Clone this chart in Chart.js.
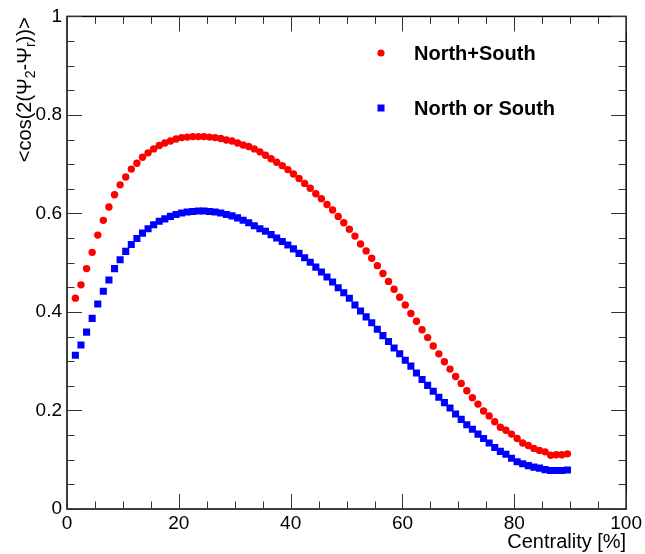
<!DOCTYPE html>
<html>
<head>
<meta charset="utf-8">
<script src="https://cdn.jsdelivr.net/npm/chart.js@4/dist/chart.umd.min.js"></script>
<style>
  body { margin: 0; background: #fff; }
  canvas { display: block; }
</style>
</head>
<body>
<canvas id="resolution" width="645" height="554"></canvas>
<script>
// centrality bin centres, 1.5 ... 89.5
const centrality = [];
for (let i = 1; i <= 89; i++) centrality.push(i + 0.5);

const northPlusSouth = [
  0.428, 0.455, 0.488, 0.521, 0.556, 0.586, 0.613, 0.638, 0.658, 0.674,
  0.690, 0.702, 0.714, 0.723, 0.731, 0.738, 0.743, 0.747, 0.751, 0.754,
  0.755, 0.756, 0.756, 0.756, 0.755, 0.754, 0.752, 0.749, 0.747, 0.743,
  0.739, 0.736, 0.731, 0.725, 0.718, 0.711, 0.704, 0.697, 0.689, 0.680,
  0.671, 0.661, 0.651, 0.640, 0.630, 0.618, 0.607, 0.594, 0.581, 0.568,
  0.554, 0.538, 0.524, 0.509, 0.494, 0.478, 0.462, 0.446, 0.430, 0.414,
  0.397, 0.381, 0.364, 0.348, 0.331, 0.315, 0.299, 0.284, 0.269, 0.255,
  0.240, 0.226, 0.213, 0.199, 0.189, 0.177, 0.166, 0.160, 0.152, 0.143,
  0.134, 0.129, 0.123, 0.119, 0.116, 0.109, 0.110, 0.110, 0.112
];

const northOrSouth = [
  0.312, 0.333, 0.359, 0.387, 0.416, 0.442, 0.465, 0.488, 0.506, 0.523,
  0.537, 0.549, 0.560, 0.569, 0.577, 0.584, 0.589, 0.594, 0.598, 0.601,
  0.603, 0.604, 0.605, 0.605, 0.604, 0.603, 0.601, 0.598, 0.595, 0.591,
  0.586, 0.581, 0.575, 0.569, 0.564, 0.557, 0.550, 0.543, 0.536, 0.528,
  0.519, 0.510, 0.501, 0.491, 0.481, 0.471, 0.461, 0.449, 0.439, 0.428,
  0.414, 0.402, 0.390, 0.378, 0.365, 0.352, 0.340, 0.327, 0.315, 0.302,
  0.290, 0.276, 0.263, 0.251, 0.239, 0.227, 0.216, 0.205, 0.193, 0.182,
  0.171, 0.162, 0.152, 0.143, 0.134, 0.125, 0.117, 0.111, 0.103, 0.096,
  0.092, 0.088, 0.085, 0.083, 0.080, 0.078, 0.078, 0.078, 0.079
];

const xTicks = [0, 20, 40, 60, 80, 100];
const yTicks = [0, 0.2, 0.4, 0.6, 0.8, 1];

const FONT = 'Liberation Sans, Arial, Helvetica, sans-serif';

function toPoints(xs, ys) {
  return xs.map(function (x, i) { return {x: x, y: ys[i]}; });
}

// ROOT style frame: box with inward ticks on all four sides
const rootFrame = {
  id: 'rootFrame',
  afterDraw(chart) {
    const ctx = chart.ctx;
    const a = chart.chartArea;
    const x = chart.scales.x, y = chart.scales.y;
    ctx.save();
    ctx.strokeStyle = '#000';
    ctx.lineWidth = 1.5;
    ctx.strokeRect(a.left, a.top, a.right - a.left, a.bottom - a.top);

    ctx.lineWidth = 1;
    ctx.strokeStyle = '#333';
    ctx.beginPath();
    for (let v = 0; v <= 100.001; v += 5) {
      const px = Math.round(x.getPixelForValue(v)) + 0.5;
      const len = (v % 20 === 0) ? 15 : 7.5;
      ctx.moveTo(px, a.bottom); ctx.lineTo(px, a.bottom - len);
      ctx.moveTo(px, a.top); ctx.lineTo(px, a.top + len);
    }
    for (let k = 0; k <= 20; k++) {
      const v = k * 0.05;
      const py = Math.round(y.getPixelForValue(v)) + 0.5;
      const len = (k % 4 === 0) ? 15 : 7.5;
      ctx.moveTo(a.left, py); ctx.lineTo(a.left + len, py);
      ctx.moveTo(a.right, py); ctx.lineTo(a.right - len, py);
    }
    ctx.stroke();

    // y axis title with subscripts, rotated, right-aligned to the top
    const parts = [
      ['<cos(2(\u03A8', false], ['2', true], ['-\u03A8', false], ['r', true], ['))>', false]
    ];
    const big = '20px ' + FONT, small = '14px ' + FONT;
    let total = 0;
    parts.forEach(function (p) {
      ctx.font = p[1] ? small : big;
      total += ctx.measureText(p[0]).width;
    });
    ctx.translate(31, a.top + 1 + total);
    ctx.rotate(-Math.PI / 2);
    ctx.fillStyle = '#000';
    ctx.textBaseline = 'alphabetic';
    let cx = 0;
    parts.forEach(function (p) {
      ctx.font = p[1] ? small : big;
      ctx.fillText(p[0], cx, p[1] ? 4 : 0);
      cx += ctx.measureText(p[0]).width;
    });
    ctx.restore();

    // legend in the upper right, ROOT TLegend style
    ctx.save();
    chart.data.datasets.forEach(function (ds, i) {
      const ly = 53 + i * 55;
      ctx.fillStyle = ds.backgroundColor;
      if (ds.pointStyle === 'rect') {
        ctx.fillRect(377.5, ly - 3.5, 7, 7);
      } else {
        ctx.beginPath();
        ctx.arc(381, ly, 3.6, 0, Math.PI * 2);
        ctx.fill();
      }
      ctx.fillStyle = '#000';
      ctx.font = 'bold 20px ' + FONT;
      ctx.textBaseline = 'middle';
      ctx.fillText(ds.label, 414, ly + 1);
    });
    ctx.restore();
  }
};

const ctx = document.getElementById('resolution').getContext('2d');
const resChart = new Chart(ctx, {
  type: 'scatter',
  data: {
    datasets: [{
      label: 'North+South',
      data: toPoints(centrality, northPlusSouth),
      backgroundColor: '#ff0000',
      borderColor: '#ff0000',
      borderWidth: 0,
      pointStyle: 'circle',
      pointRadius: 3.7
    }, {
      label: 'North or South',
      data: toPoints(centrality, northOrSouth),
      backgroundColor: '#0000ff',
      borderColor: '#0000ff',
      borderWidth: 0,
      pointStyle: 'rect',
      pointRadius: 5
    }]
  },
  options: {
    responsive: false,
    animation: false,
    layout: { padding: { top: 13, right: 17, left: 0, bottom: 0 } },
    plugins: {
      legend: { display: false },
      tooltip: { enabled: false }
    },
    scales: {
      x: {
        type: 'linear',
        min: 0, max: 100,
        grid: { display: false, drawTicks: false },
        border: { display: false },
        afterBuildTicks: function (s) { s.ticks = xTicks.map(function (v) { return {value: v}; }); },
        afterFit: function (s) { s.height = 45; },
        ticks: {
          color: '#000',
          font: { family: FONT, size: 19 },
          padding: 3,
          maxRotation: 0,
          callback: function (v) { return String(v); }
        },
        title: {
          display: true,
          text: 'Centrality [%]',
          align: 'end',
          color: '#000',
          font: { family: FONT, size: 20 },
          padding: { top: 0, bottom: 0 }
        }
      },
      y: {
        type: 'linear',
        min: 0, max: 1,
        grid: { display: false, drawTicks: false },
        border: { display: false },
        afterBuildTicks: function (s) { s.ticks = yTicks.map(function (v) { return {value: v}; }); },
        afterFit: function (s) { s.width = 67; },
        ticks: {
          color: '#000',
          font: { family: FONT, size: 19 },
          padding: 5,
          callback: function (v) { return String(Math.round(v * 10) / 10); }
        }
      }
    }
  },
  plugins: [rootFrame]
});
</script>
</body>
</html>
